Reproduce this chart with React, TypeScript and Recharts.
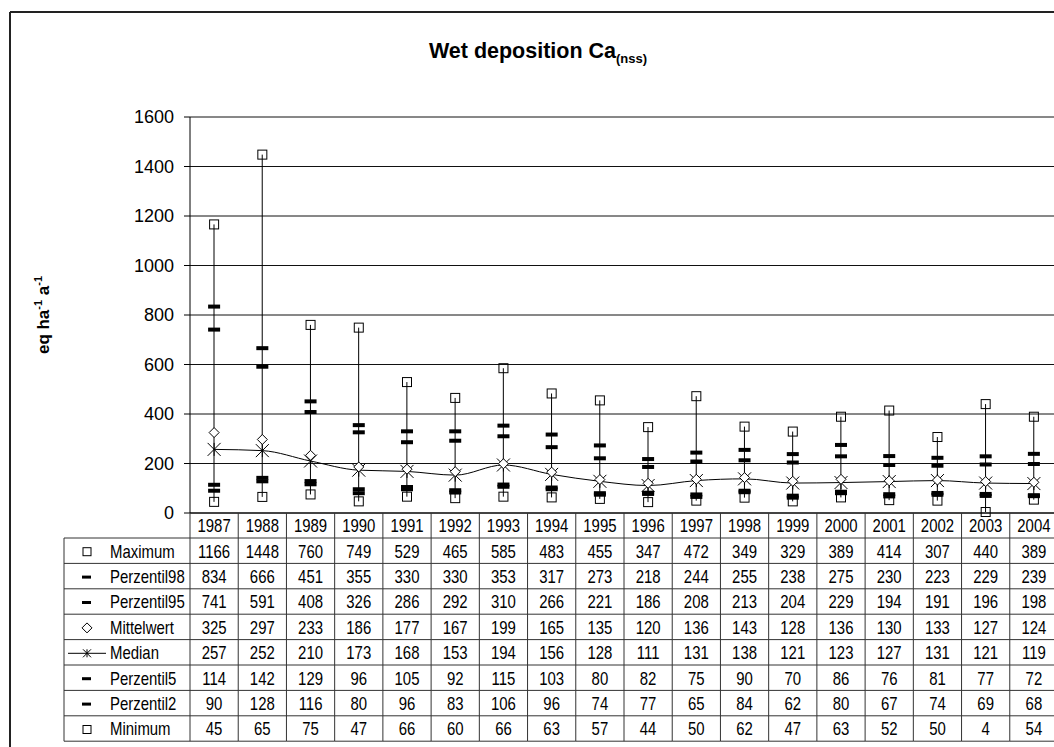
import React from "react";
import { Bar, CartesianGrid, ComposedChart, Line, XAxis, YAxis } from "recharts";

const years = [
  "1987", "1988", "1989", "1990", "1991", "1992", "1993", "1994", "1995",
  "1996", "1997", "1998", "1999", "2000", "2001", "2002", "2003", "2004",
];
const maximum = [1166, 1448, 760, 749, 529, 465, 585, 483, 455, 347, 472, 349, 329, 389, 414, 307, 440, 389];
const perzentil98 = [834, 666, 451, 355, 330, 330, 353, 317, 273, 218, 244, 255, 238, 275, 230, 223, 229, 239];
const perzentil95 = [741, 591, 408, 326, 286, 292, 310, 266, 221, 186, 208, 213, 204, 229, 194, 191, 196, 198];
const mittelwert = [325, 297, 233, 186, 177, 167, 199, 165, 135, 120, 136, 143, 128, 136, 130, 133, 127, 124];
const median = [257, 252, 210, 173, 168, 153, 194, 156, 128, 111, 131, 138, 121, 123, 127, 131, 121, 119];
const perzentil5 = [114, 142, 129, 96, 105, 92, 115, 103, 80, 82, 75, 90, 70, 86, 76, 81, 77, 72];
const perzentil2 = [90, 128, 116, 80, 96, 83, 106, 96, 74, 77, 65, 84, 62, 80, 67, 74, 69, 68];
const minimum = [45, 65, 75, 47, 66, 60, 66, 63, 57, 44, 50, 62, 47, 63, 52, 50, 4, 54];
const yTicks = [0, 200, 400, 600, 800, 1000, 1200, 1400, 1600];

type Marker = "square" | "dash" | "diamond" | "star";

const tableRows: { label: string; values: number[]; marker: Marker; line?: boolean }[] = [
  { label: "Maximum", values: maximum, marker: "square" },
  { label: "Perzentil98", values: perzentil98, marker: "dash" },
  { label: "Perzentil95", values: perzentil95, marker: "dash" },
  { label: "Mittelwert", values: mittelwert, marker: "diamond" },
  { label: "Median", values: median, marker: "star", line: true },
  { label: "Perzentil5", values: perzentil5, marker: "dash" },
  { label: "Perzentil2", values: perzentil2, marker: "dash" },
  { label: "Minimum", values: minimum, marker: "square" },
];

const chartData = years.map((year, i) => ({
  year,
  range: [minimum[i], maximum[i]],
  maximum: maximum[i],
  perzentil98: perzentil98[i],
  perzentil95: perzentil95[i],
  mittelwert: mittelwert[i],
  median: median[i],
  perzentil5: perzentil5[i],
  perzentil2: perzentil2[i],
  minimum: minimum[i],
}));

const CHART_W = 1054;
const CHART_H = 747;
const PLOT_LEFT = 190;
const PLOT_RIGHT = 1058;
const PLOT_BOTTOM = 513;
const HEADER_H = 25;
const ROW_H = 25.4;
const TABLE_LEFT = 64;
const STEP = (PLOT_RIGHT - PLOT_LEFT) / years.length;
const BODY_TOP = PLOT_BOTTOM + HEADER_H;
const TABLE_BOTTOM = BODY_TOP + ROW_H * tableRows.length;

const FONT = "'Liberation Sans', Arial, Helvetica, sans-serif";
const INK = "#000";
const CELL_LINE = "#333";
const SQUEEZE = 0.83; // table text in the original is horizontally condensed

// narrow-looking text: normal Arial squeezed horizontally around its anchor
function NarrowText({ x, y, anchor = "middle", children }: { x: number; y: number; anchor?: "start" | "middle"; children: React.ReactNode }) {
  return (
    <text
      transform={`translate(${x} ${y}) scale(${SQUEEZE} 1)`}
      textAnchor={anchor}
      dominantBaseline="central"
      fontFamily={FONT}
      fontSize={18}
      fill={INK}
    >
      {children}
    </text>
  );
}

function MarkerShape({ kind, cx, cy }: { kind: Marker; cx: number; cy: number }) {
  if (kind === "square") {
    return <rect x={cx - 4.5} y={cy - 4.5} width={9} height={9} fill="none" stroke={INK} strokeWidth={1} />;
  }
  if (kind === "dash") {
    return <rect x={cx - 6} y={cy - 2} width={12} height={4} fill={INK} />;
  }
  if (kind === "diamond") {
    return (
      <polygon
        points={`${cx},${cy - 5} ${cx + 5},${cy} ${cx},${cy + 5} ${cx - 5},${cy}`}
        fill="#fff"
        stroke={INK}
        strokeWidth={1}
      />
    );
  }
  return (
    <g stroke={INK} strokeWidth={1}>
      <line x1={cx - 6.5} y1={cy - 6.5} x2={cx + 6.5} y2={cy + 6.5} />
      <line x1={cx - 6.5} y1={cy + 6.5} x2={cx + 6.5} y2={cy - 6.5} />
      <line x1={cx} y1={cy - 6.5} x2={cx} y2={cy + 6.5} />
    </g>
  );
}

function dotFor(kind: Marker, name: string) {
  return (props: any) => {
    const { cx, cy, index } = props;
    if (cx == null || cy == null) return <g key={`${name}-${index}`} />;
    return (
      <g key={`${name}-${index}`}>
        <MarkerShape kind={kind} cx={cx} cy={cy} />
      </g>
    );
  };
}

function HiLoLine(props: any) {
  const { x, y, width, height } = props;
  const cx = x + width / 2;
  return <line x1={cx} y1={y} x2={cx} y2={y + height} stroke={INK} strokeWidth={1} />;
}

// each x tick draws its own table column (year header + values)
function TableColumn(props: any) {
  const { x, payload, index } = props;
  const left = x - STEP / 2;
  const right = x + STEP / 2;
  const col = payload.index ?? index;
  return (
    <g>
      {index === 0 && <LabelColumn />}
      <line x1={right} y1={PLOT_BOTTOM} x2={right} y2={TABLE_BOTTOM} stroke={CELL_LINE} strokeWidth={1} />
      {index === 0 && (
        <line x1={left} y1={PLOT_BOTTOM} x2={left} y2={TABLE_BOTTOM} stroke={CELL_LINE} strokeWidth={1} />
      )}
      <NarrowText x={x} y={PLOT_BOTTOM + HEADER_H / 2 + 1}>
        {payload.value}
      </NarrowText>
      {tableRows.map((row, r) => (
        <g key={row.label}>
          <line x1={left} y1={BODY_TOP + r * ROW_H} x2={right} y2={BODY_TOP + r * ROW_H} stroke={CELL_LINE} strokeWidth={1} />
          <NarrowText x={x} y={BODY_TOP + r * ROW_H + ROW_H / 2 + 1}>
            {row.values[col]}
          </NarrowText>
        </g>
      ))}
      <line x1={left} y1={TABLE_BOTTOM} x2={right} y2={TABLE_BOTTOM} stroke={CELL_LINE} strokeWidth={1} />
    </g>
  );
}

function LabelColumn() {
  return (
    <g>
      <line x1={TABLE_LEFT} y1={BODY_TOP} x2={TABLE_LEFT} y2={TABLE_BOTTOM} stroke={CELL_LINE} strokeWidth={1} />
      {tableRows.map((row, r) => {
        const cy = BODY_TOP + r * ROW_H + ROW_H / 2;
        return (
          <g key={row.label}>
            <line x1={TABLE_LEFT} y1={BODY_TOP + r * ROW_H} x2={PLOT_LEFT} y2={BODY_TOP + r * ROW_H} stroke={CELL_LINE} strokeWidth={1} />
            {row.line && <line x1={68} y1={cy + 1} x2={106} y2={cy + 1} stroke={INK} strokeWidth={1} />}
            {row.marker === "square" ? (
              <rect x={83} y={cy - 3} width={8} height={8} fill="#fff" stroke={INK} strokeWidth={1} />
            ) : row.marker === "dash" ? (
              <rect x={82} y={cy - 0.5} width={9} height={3} fill={INK} />
            ) : row.marker === "diamond" ? (
              <MarkerShape kind="diamond" cx={87} cy={cy + 1} />
            ) : (
              <g stroke={INK} strokeWidth={1}>
                <line x1={83} y1={cy - 3} x2={91} y2={cy + 5} />
                <line x1={83} y1={cy + 5} x2={91} y2={cy - 3} />
                <line x1={87} y1={cy - 3} x2={87} y2={cy + 5} />
              </g>
            )}
            <NarrowText x={110} y={cy + 1} anchor="start">
              {row.label}
            </NarrowText>
          </g>
        );
      })}
      <line x1={TABLE_LEFT} y1={TABLE_BOTTOM} x2={PLOT_LEFT} y2={TABLE_BOTTOM} stroke={CELL_LINE} strokeWidth={1} />
    </g>
  );
}

const pointSeries: { key: string; marker: Marker }[] = [
  { key: "maximum", marker: "square" },
  { key: "perzentil98", marker: "dash" },
  { key: "perzentil95", marker: "dash" },
  { key: "mittelwert", marker: "diamond" },
  { key: "perzentil5", marker: "dash" },
  { key: "perzentil2", marker: "dash" },
  { key: "minimum", marker: "square" },
];

export default function App() {
  return (
    <div
      style={{
        position: "fixed",
        left: 0,
        top: 0,
        width: 1054,
        height: 747,
        overflow: "hidden",
        background: "#fff",
        fontFamily: FONT,
      }}
    >
      <div style={{ position: "absolute", left: 0, top: 0 }}>
        <ComposedChart
          width={CHART_W}
          height={CHART_H}
          data={chartData}
          margin={{ top: 117, right: CHART_W - PLOT_RIGHT, left: 0, bottom: 6 }}
          style={{ overflow: "visible" }}
        >
          <CartesianGrid vertical={false} stroke="#111" strokeWidth={1} />
          <XAxis
            dataKey="year"
            interval={0}
            height={228}
            tickLine={false}
            axisLine={{ stroke: INK }}
            tick={(p: any) => <TableColumn {...p} />}
          />
          <YAxis
            width={PLOT_LEFT}
            domain={[0, 1600]}
            ticks={yTicks}
            interval={0}
            tickSize={6}
            tickMargin={10}
            tickLine={{ stroke: INK }}
            axisLine={{ stroke: INK }}
            tick={{ fill: INK, fontSize: 18, fontFamily: FONT }}
          />
          <Bar dataKey="range" barSize={2} shape={(p: any) => <HiLoLine {...p} />} isAnimationActive={false} />
          <Line
            dataKey="median"
            type="monotone"
            stroke={INK}
            strokeWidth={1}
            dot={dotFor("star", "median")}
            activeDot={false}
            isAnimationActive={false}
          />
          {pointSeries.map((s) => (
            <Line
              key={s.key}
              dataKey={s.key}
              stroke="none"
              dot={dotFor(s.marker, s.key)}
              activeDot={false}
              isAnimationActive={false}
            />
          ))}
        </ComposedChart>
      </div>
      <svg
        width={1054}
        height={747}
        style={{ position: "absolute", left: 0, top: 0, pointerEvents: "none" }}
      >
        {/* outer chart-area frame (only top and left edges are inside the picture) */}
        <line x1={10} y1={12} x2={1060} y2={12} stroke="#222" strokeWidth={2} />
        <line x1={10} y1={12} x2={10} y2={760} stroke="#222" strokeWidth={2} />
        <text x={538} y={58} textAnchor="middle" fontFamily={FONT} fontWeight="bold" fontSize={21.5} fill={INK}>
          Wet deposition Ca
          <tspan fontSize={13} dy={5}>(nss)</tspan>
        </text>
        <text
          x={49}
          y={315}
          transform="rotate(-90 49 315)"
          textAnchor="middle"
          fontFamily={FONT}
          fontWeight="bold"
          fontSize={17}
          fill={INK}
        >
          eq ha
          <tspan fontSize={11} dy={-7}>-1</tspan>
          <tspan dy={7}> a</tspan>
          <tspan fontSize={11} dy={-7}>-1</tspan>
        </text>
      </svg>
    </div>
  );
}
